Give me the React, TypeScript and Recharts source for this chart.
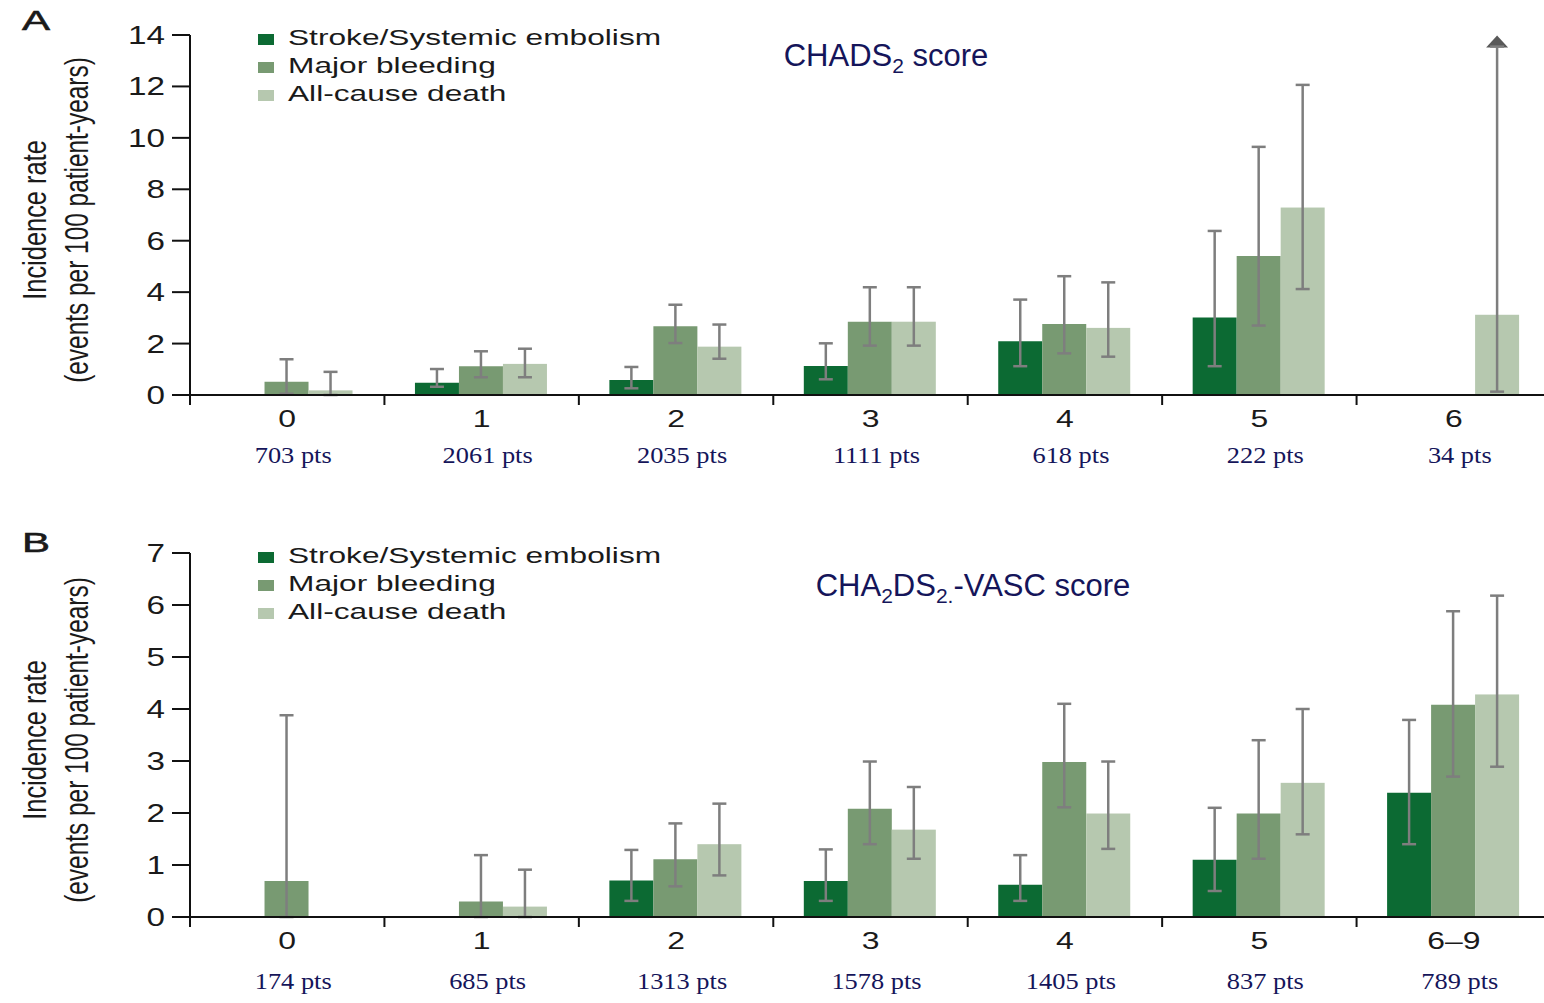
import React from "react";
import { BarChart, Bar, XAxis, YAxis, ErrorBar, Legend } from "recharts";

// Panel A: CHADS2 score
const scoresA = ["0", "1", "2", "3", "4", "5", "6"];
const patientsA = [703, 2061, 2035, 1111, 618, 222, 34];
const strokeA = [null, 0.48, 0.58, 1.13, 2.09, 3.01, null];
const strokeLoA = [null, 0.32, 0.26, 0.61, 1.12, 1.12, null];
const strokeHiA = [null, 1.01, 1.09, 2.01, 3.71, 6.38, null];
const bleedA = [0.52, 1.12, 2.67, 2.85, 2.76, 5.41, null];
const bleedLoA = [0.05, 0.69, 2.02, 1.92, 1.62, 2.7, null];
const bleedHiA = [1.39, 1.7, 3.51, 4.19, 4.62, 9.65, null];
const deathA = [0.18, 1.21, 1.88, 2.85, 2.61, 7.29, 3.12];
const deathLoA = [0, 0.69, 1.41, 1.92, 1.49, 4.12, 0.13];
const deathHiA = [0.9, 1.8, 2.74, 4.19, 4.38, 12.06, 13.55];
// upper limit not reached (drawn as an arrow)
const openA = [false, false, false, false, false, false, true];
const ticksA = [0, 2, 4, 6, 8, 10, 12, 14];

// Panel B: CHA2DS2-VASc score
const scoresB = ["0", "1", "2", "3", "4", "5", "6–9"];
const patientsB = [174, 685, 1313, 1578, 1405, 837, 789];
const strokeB = [null, null, 0.7, 0.69, 0.62, 1.1, 2.39];
const strokeLoB = [null, null, 0.31, 0.31, 0.31, 0.5, 1.4];
const strokeHiB = [null, null, 1.29, 1.3, 1.19, 2.1, 3.79];
const bleedB = [0.69, 0.3, 1.11, 2.08, 2.98, 1.99, 4.08];
const bleedLoB = [0, 0, 0.59, 1.4, 2.11, 1.12, 2.7];
const bleedHiB = [3.88, 1.19, 1.8, 2.99, 4.1, 3.4, 5.88];
const deathB = [null, 0.2, 1.4, 1.68, 1.99, 2.58, 4.28];
const deathLoB = [null, 0, 0.8, 1.12, 1.31, 1.59, 2.89];
const deathHiB = [null, 0.91, 2.18, 2.5, 2.99, 4.0, 6.18];
const openB = [false, false, false, false, false, false, false];
const ticksB = [0, 1, 2, 3, 4, 5, 6, 7];

const SERIES = [
  { key: "stroke", name: "Stroke/Systemic embolism", color: "#0c6a33" },
  { key: "bleed", name: "Major bleeding", color: "#789a72" },
  { key: "death", name: "All-cause death", color: "#b6c8af" },
];

const SANS = "'Liberation Sans', Arial, Helvetica, sans-serif";
const SERIF = "'Liberation Serif', 'Times New Roman', serif";
const NAVY = "#15155a";
const ERR = "#7e7e7e";

const err = (v, lo, hi) => (v == null ? null : [v - lo, hi - v]);

function buildRows(scores, patients, s, sLo, sHi, b, bLo, bHi, d, dLo, dHi, open) {
  return scores.map((score, i) => ({
    score,
    pts: `${patients[i]} pts`,
    stroke: s[i],
    strokeErr: err(s[i], sLo[i], sHi[i]),
    bleed: b[i],
    bleedErr: err(b[i], bLo[i], bHi[i]),
    death: d[i],
    deathErr: err(d[i], dLo[i], dHi[i]),
    open: open[i],
  }));
}

const rowsA = buildRows(scoresA, patientsA, strokeA, strokeLoA, strokeHiA, bleedA, bleedLoA, bleedHiA, deathA, deathLoA, deathHiA, openA);
const rowsB = buildRows(scoresB, patientsB, strokeB, strokeLoB, strokeHiB, bleedB, bleedLoB, bleedHiB, deathB, deathLoB, deathHiB, openB);

function ValueTick({ x, y, payload }) {
  return (
    <text transform={`translate(${x},${y}) scale(1.33,1)`} textAnchor="end" dy="0.36em" fontSize={25} fontFamily={SANS} fill="#1a1a1a">
      {payload.value}
    </text>
  );
}

function ScoreTick({ x, y, payload, rows, ptsDy }) {
  const half = payload.offset != null ? payload.offset : 1361 / 7 / 2;
  const row = rows.find((r) => r.score === payload.value);
  return (
    <g>
      <line x1={x - half} x2={x - half} y1={y} y2={y + 10} stroke="#111" strokeWidth={2} />
      <text transform={`translate(${x},${y + 32}) scale(1.33,1)`} textAnchor="middle" fontSize={24} fontFamily={SANS} fill="#1a1a1a">
        {payload.value}
      </text>
      <text transform={`translate(${x + 6},${y + ptsDy}) scale(1.1,1)`} textAnchor="middle" fontSize={24} fontFamily={SERIF} fill={NAVY}>
        {row ? row.pts : ""}
      </text>
    </g>
  );
}

// condensed two-line axis title, squeezed along the text direction
function AxisTitle({ viewBox }) {
  const vb = viewBox || {};
  const cy = (vb.y != null ? vb.y : 35) + (vb.height != null ? vb.height : 360) / 2 + 5;
  return (
    <g fontFamily={SANS} fontSize={33} fill="#1a1a1a">
      <text transform={`translate(46,${cy}) rotate(-90) scale(0.77,1)`} textAnchor="middle">
        Incidence rate
      </text>
      <text transform={`translate(88,${cy}) rotate(-90) scale(0.74,1)`} textAnchor="middle">
        (events per 100 patient-years)
      </text>
    </g>
  );
}

function DeathShape(props) {
  const { x, y, width, height, fill, payload } = props;
  if (height == null || width == null) return null;
  const base = y + height;
  let arrow = null;
  if (payload && payload.open && payload.death) {
    const top = payload.death + payload.deathErr[1];
    const yUp = base - (height * top) / payload.death;
    const cx = x + width / 2;
    arrow = <polygon points={`${cx - 11},${yUp + 1} ${cx + 11},${yUp + 1} ${cx},${yUp - 11}`} fill="#595959" />;
  }
  return (
    <g>
      <rect x={x} y={y} width={width} height={height} fill={fill} />
      {arrow}
    </g>
  );
}

function LegendBox() {
  return (
    <svg width={520} height={100} style={{ overflow: "visible" }}>
      {SERIES.map((s, i) => (
        <g key={s.key}>
          <rect x={8} y={6 + i * 28} width={16} height={11} fill={s.color} />
          <text transform={`translate(38,${17 + i * 28}) scale(1.44,1)`} fontSize={22} fontFamily={SANS} fill="#1a1a1a">
            {s.name}
          </text>
        </g>
      ))}
    </svg>
  );
}

function Panel({ top, height, rows, max, ticks, letter, letterY, title, titleX, titleY, ptsDy }) {
  return (
    <div style={{ position: "absolute", left: 0, top, width: 1560, height }}>
      <BarChart width={1560} height={height} data={rows} margin={{ top: 35, right: 9, bottom: 55, left: 0 }} barCategoryGap="15.7%" barGap={0}>
        <XAxis
          dataKey="score"
          height={30}
          tickLine={false}
          tickSize={0}
          tickMargin={0}
          interval={0}
          axisLine={{ stroke: "#111", strokeWidth: 2 }}
          tick={(p) => <ScoreTick {...p} rows={rows} ptsDy={ptsDy} />}
        />
        <YAxis
          width={190}
          domain={[0, max]}
          ticks={ticks}
          interval={0}
          tickSize={18}
          tickMargin={7}
          axisLine={{ stroke: "#111", strokeWidth: 2 }}
          tickLine={{ stroke: "#111", strokeWidth: 2 }}
          tick={(p) => <ValueTick {...p} />}
          label={{ content: (p) => <AxisTitle {...p} /> }}
        />
        <Legend layout="vertical" align="center" verticalAlign="middle" wrapperStyle={{ left: 250, top: 28, width: 520, height: 100 }} content={() => <LegendBox />} />
        <Bar dataKey="stroke" name={SERIES[0].name} fill={SERIES[0].color} isAnimationActive={false}>
          <ErrorBar dataKey="strokeErr" direction="y" width={7} stroke={ERR} strokeWidth={2.5} isAnimationActive={false} />
        </Bar>
        <Bar dataKey="bleed" name={SERIES[1].name} fill={SERIES[1].color} isAnimationActive={false}>
          <ErrorBar dataKey="bleedErr" direction="y" width={7} stroke={ERR} strokeWidth={2.5} isAnimationActive={false} />
        </Bar>
        <Bar dataKey="death" name={SERIES[2].name} fill={SERIES[2].color} shape={(p) => <DeathShape {...p} />} isAnimationActive={false}>
          <ErrorBar dataKey="deathErr" direction="y" width={7} stroke={ERR} strokeWidth={2.5} isAnimationActive={false} />
        </Bar>
      </BarChart>
      <svg width={1544} height={height} style={{ position: "absolute", left: 0, top: 0, pointerEvents: "none" }}>
        <text transform={`translate(22,${letterY}) scale(1.5,1)`} fontSize={28} fontFamily={SANS} fill="#1a1a1a" stroke="#1a1a1a" strokeWidth={0.6}>
          {letter}
        </text>
        <text x={titleX} y={titleY} textAnchor="middle" fontSize={31} fontFamily={SANS} fill={NAVY}>
          {title}
        </text>
      </svg>
    </div>
  );
}

export default function App() {
  const titleA = [
    <tspan key="a">CHADS</tspan>,
    <tspan key="b" dy={7} fontSize={21}>2</tspan>,
    <tspan key="c" dy={-7}> score</tspan>,
  ];
  const titleB = [
    <tspan key="a">CHA</tspan>,
    <tspan key="b" dy={7} fontSize={21}>2</tspan>,
    <tspan key="c" dy={-7}>DS</tspan>,
    <tspan key="d" dy={7} fontSize={21}>2.</tspan>,
    <tspan key="e" dy={-7}>-VASC score</tspan>,
  ];
  return (
    <div style={{ position: "absolute", left: 0, top: 0, width: 1544, height: 1003, overflow: "hidden", background: "#fff" }}>
      <Panel top={0} height={480} rows={rowsA} max={14} ticks={ticksA} letter="A" letterY={30} title={titleA} titleX={886} titleY={66} ptsDy={68} />
      <Panel top={518} height={484} rows={rowsB} max={7} ticks={ticksB} letter="B" letterY={34} title={titleB} titleX={973} titleY={78} ptsDy={72} />
    </div>
  );
}
